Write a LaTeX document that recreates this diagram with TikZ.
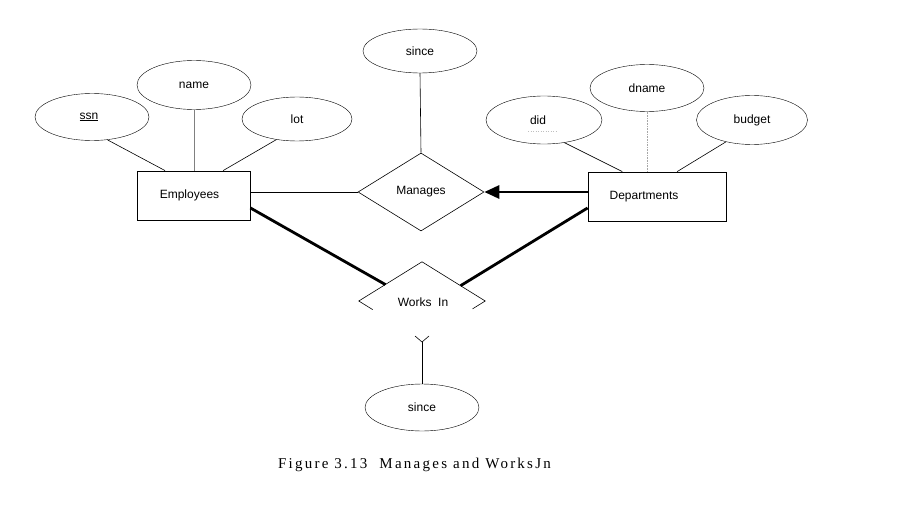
\documentclass[tikz,border=0pt]{standalone}
\usepackage{fontspec}
\setmainfont{Liberation Serif}
\setsansfont{Liberation Sans}
\usetikzlibrary{shapes.geometric,calc,arrows.meta}
\begin{document}
\begin{tikzpicture}[x=1pt,y=-1pt,
  lbl/.style={font=\sffamily\fontsize{12}{14}\selectfont},
  attr/.style={lbl,draw,ellipse,inner sep=0pt,minimum width=114pt,minimum height=47pt},
  ent/.style={lbl,draw,rectangle,inner sep=0pt,line width=0.8pt},
  rel/.style={lbl,diamond,aspect=1.6,inner sep=0pt,minimum width=126pt,minimum height=78pt},
  thin/.style={line width=0.6pt},
  heavy/.style={line width=2.8pt},
]
\useasboundingbox (0,0) rectangle (907,516);
% entities
\node[ent,minimum width=113pt,minimum height=49pt] (emp) at (193.5,195.5) {\hspace*{-8pt}Employees};
\node[ent,minimum width=138pt,minimum height=49pt] (dept) at (657,196.5) {\hspace*{-26pt}Departments};
% attributes
\node[attr] (ssn) at (92,117) {\hspace*{-6pt}\underline{ssn}};
\node[attr,minimum height=49pt] (name) at (194,85) {name};
\node[attr,minimum width=110pt,minimum height=44pt] (lot) at (297,119) {lot};
\node[attr,minimum width=116pt,minimum height=48pt] (did) at (544,120) {\hspace*{-12pt}did};
\node[attr] (dname) at (647,88) {dname};
\node[attr,minimum width=111pt,minimum height=49pt] (budget) at (752,120) {budget};
\node[attr,minimum height=44pt] (since1) at (420,51) {since};
\node[attr,minimum height=47pt] (since2) at (422,407.5) {since};
% relationships
\node[rel,draw,thin] (man) at (421,192) {Manages};
\node[rel] (wi) at (422,301) {};
\node[lbl] (wilbl) at (423,302) {Works\ \ In};
\draw[thin] ($(wi.west)!0.22!(wi.south)$) -- (wi.west) -- (wi.north) -- (wi.east) -- ($(wi.east)!0.2!(wi.south)$);
% attribute links
\draw[thin] (ssn.-56) -- ($(emp.north west)!0.25!(emp.north east)$);
\draw[thin,gray] (name.south) -- (name.south |- emp.north);
\draw[thin] (lot.-135) -- ($(emp.north west)!0.76!(emp.north east)$);
\draw[thin] (did.-48) -- ($(dept.north west)!0.25!(dept.north east)$);
\draw[thin,gray!70,densely dotted] (dname.south) -- (dname.south |- dept.north);
\draw[thin] (budget.-140) -- ($(dept.north west)!0.645!(dept.north east)$);
\draw[thin] (since1.south) -- (man.north);
% did faint underline
\draw[gray!50,dotted,line width=0.5pt] ($(did.center)+(-16,11)$) -- ($(did.center)+(12,11)$);
% relationship links
\draw[thin] (man.west -| emp.east) -- (man.west);
\draw[heavy,-{Triangle[length=15pt,width=13pt]}] (man.east -| dept.west) -- (man.east);
\draw[heavy] ($(emp.south east)!0.25!(emp.north east)$) -- ($(wi.west)!0.42!(wi.north)$);
\draw[heavy] ($(dept.south west)!0.27!(dept.north west)$) -- ($(wi.east)!0.39!(wi.north)$);
% Y mark
\coordinate (yj) at (422,342);
\coordinate (yl) at (415,336);
\coordinate (yr) at (429,336);
\draw[thin] (yl) -- (yj) -- (yr);
\draw[thin] (yj) -- (since2.north);
% caption
\node[font=\addfontfeature{LetterSpace=15}\fontsize{15}{17}\selectfont,anchor=base] (cap) at (414.5,468) {Figure 3.13\hspace{12pt}Manages and WorksJn};
\end{tikzpicture}
\end{document}
